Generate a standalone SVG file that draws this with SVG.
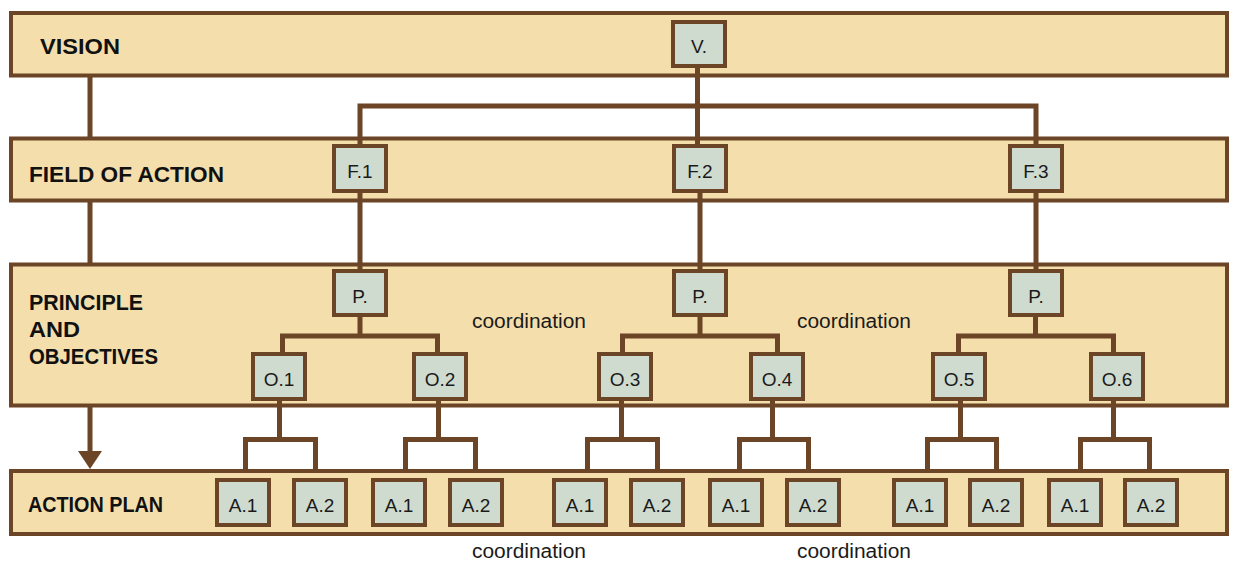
<svg xmlns="http://www.w3.org/2000/svg" width="1235" height="561" viewBox="0 0 1235 561">
<style>
.band{fill:#F4DFAC;stroke:#6B4526;stroke-width:4}
.box{fill:#CFDBCF;stroke:#6B4526;stroke-width:4}
.conn{fill:none;stroke:#6B4526;stroke-width:5;stroke-linejoin:miter;stroke-linecap:butt}
.hd{font-family:"Liberation Sans",Arial,sans-serif;font-weight:bold;font-size:22px;fill:#111}
.lb{font-family:"Liberation Sans",Arial,sans-serif;font-size:19px;fill:#1a1a1a;text-anchor:middle}
.co{font-family:"Liberation Sans",Arial,sans-serif;font-size:20px;fill:#1a1a1a}
</style>
<rect width="1235" height="561" fill="#ffffff"/>
<g id="bands">
<g id="band-vision"><rect class="band" x="11" y="13" width="1216" height="62.5"/><text class="hd" x="40" y="54" textLength="80" lengthAdjust="spacingAndGlyphs">VISION</text></g>
<g id="band-field"><rect class="band" x="11" y="138.5" width="1216" height="62"/><text class="hd" x="29" y="182" textLength="195" lengthAdjust="spacingAndGlyphs">FIELD OF ACTION</text></g>
<g id="band-principle"><rect class="band" x="11" y="264.5" width="1216" height="141"/>
<text class="hd" x="29" y="310" textLength="114" lengthAdjust="spacingAndGlyphs">PRINCIPLE</text>
<text class="hd" x="29" y="337" textLength="51" lengthAdjust="spacingAndGlyphs">AND</text>
<text class="hd" x="29" y="364" textLength="129" lengthAdjust="spacingAndGlyphs">OBJECTIVES</text></g>
<g id="band-action"><rect class="band" x="11" y="471" width="1216" height="63"/><text class="hd" x="28" y="512" textLength="135" lengthAdjust="spacingAndGlyphs">ACTION PLAN</text></g>
</g>
<g id="connectors">
<path class="conn" d="M90,77 V137 M90,202 V263 M90,407 V452"/>
<polygon points="78,451 102,451 90,469" fill="#6B4526"/>
<path class="conn" d="M697.5,68 V144 M360,144 V106 H1036 V144"/>
<path class="conn" d="M360,193 V269 M700,193 V269 M1036,193 V269"/>
<path class="conn" d="M360,317 V336 M282.5,352 V336 H437.5 V352"/>
<path class="conn" d="M700,317 V336 M622.5,352 V336 H777.5 V352"/>
<path class="conn" d="M1035.5,317 V336 M958.5,352 V336 H1113.5 V352"/>
<path class="conn" d="M279.5,401 V439.5 M245.5,471 V439.5 H315.5 V471"/>
<path class="conn" d="M438.5,401 V439.5 M405.5,471 V439.5 H475.5 V471"/>
<path class="conn" d="M621.5,401 V439.5 M587.5,471 V439.5 H657.5 V471"/>
<path class="conn" d="M772.5,401 V439.5 M739.5,471 V439.5 H808.5 V471"/>
<path class="conn" d="M960.5,401 V439.5 M927.5,471 V439.5 H996.5 V471"/>
<path class="conn" d="M1113.5,401 V439.5 M1080.5,471 V439.5 H1149.5 V471"/>
</g>
<g id="labels">
<text class="co" x="472" y="328" textLength="114" lengthAdjust="spacingAndGlyphs">coordination</text>
<text class="co" x="797" y="328" textLength="114" lengthAdjust="spacingAndGlyphs">coordination</text>
<text class="co" x="472" y="558" textLength="114" lengthAdjust="spacingAndGlyphs">coordination</text>
<text class="co" x="797" y="558" textLength="114" lengthAdjust="spacingAndGlyphs">coordination</text>
</g>
<g id="node-V"><rect class="box" x="673" y="22" width="52" height="44"/><text class="lb" x="699" y="53">V.</text></g>
<g id="node-F1"><rect class="box" x="334" y="146" width="52" height="45"/><text class="lb" x="360" y="177.5">F.1</text></g>
<g id="node-F2"><rect class="box" x="674" y="146" width="52" height="45"/><text class="lb" x="700" y="177.5">F.2</text></g>
<g id="node-F3"><rect class="box" x="1010" y="146" width="52" height="45"/><text class="lb" x="1036" y="177.5">F.3</text></g>
<g id="node-P1"><rect class="box" x="334" y="271" width="52" height="44"/><text class="lb" x="360" y="302.5">P.</text></g>
<g id="node-P2"><rect class="box" x="674" y="271" width="52" height="44"/><text class="lb" x="700" y="302.5">P.</text></g>
<g id="node-P3"><rect class="box" x="1010" y="271" width="52" height="44"/><text class="lb" x="1036" y="302.5">P.</text></g>
<g id="node-O1"><rect class="box" x="253" y="354" width="52" height="45"/><text class="lb" x="279" y="385.5">O.1</text></g>
<g id="node-O2"><rect class="box" x="414" y="354" width="52" height="45"/><text class="lb" x="440" y="385.5">O.2</text></g>
<g id="node-O3"><rect class="box" x="599" y="354" width="52" height="45"/><text class="lb" x="625" y="385.5">O.3</text></g>
<g id="node-O4"><rect class="box" x="751" y="354" width="52" height="45"/><text class="lb" x="777" y="385.5">O.4</text></g>
<g id="node-O5"><rect class="box" x="933" y="354" width="52" height="45"/><text class="lb" x="959" y="385.5">O.5</text></g>
<g id="node-O6"><rect class="box" x="1091" y="354" width="52" height="45"/><text class="lb" x="1117" y="385.5">O.6</text></g>
<g id="node-A11"><rect class="box" x="217" y="480" width="52" height="45"/><text class="lb" x="243" y="511.5">A.1</text></g>
<g id="node-A12"><rect class="box" x="294" y="480" width="52" height="45"/><text class="lb" x="320" y="511.5">A.2</text></g>
<g id="node-A21"><rect class="box" x="373" y="480" width="52" height="45"/><text class="lb" x="399" y="511.5">A.1</text></g>
<g id="node-A22"><rect class="box" x="450" y="480" width="52" height="45"/><text class="lb" x="476" y="511.5">A.2</text></g>
<g id="node-A31"><rect class="box" x="554" y="480" width="52" height="45"/><text class="lb" x="580" y="511.5">A.1</text></g>
<g id="node-A32"><rect class="box" x="631" y="480" width="52" height="45"/><text class="lb" x="657" y="511.5">A.2</text></g>
<g id="node-A41"><rect class="box" x="710" y="480" width="52" height="45"/><text class="lb" x="736" y="511.5">A.1</text></g>
<g id="node-A42"><rect class="box" x="787" y="480" width="52" height="45"/><text class="lb" x="813" y="511.5">A.2</text></g>
<g id="node-A51"><rect class="box" x="894" y="480" width="52" height="45"/><text class="lb" x="920" y="511.5">A.1</text></g>
<g id="node-A52"><rect class="box" x="970" y="480" width="52" height="45"/><text class="lb" x="996" y="511.5">A.2</text></g>
<g id="node-A61"><rect class="box" x="1049" y="480" width="52" height="45"/><text class="lb" x="1075" y="511.5">A.1</text></g>
<g id="node-A62"><rect class="box" x="1125" y="480" width="52" height="45"/><text class="lb" x="1151" y="511.5">A.2</text></g>
</svg>
